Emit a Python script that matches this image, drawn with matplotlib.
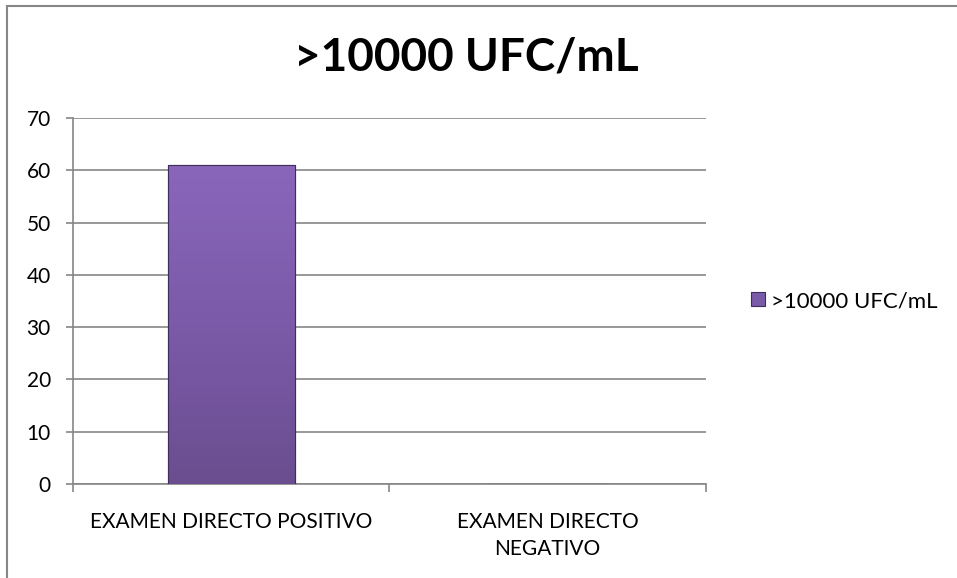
import numpy as np
import matplotlib.pyplot as plt
from matplotlib.patches import Rectangle
from matplotlib.colors import LinearSegmentedColormap

# data
categories = ["EXAMEN DIRECTO POSITIVO", "EXAMEN DIRECTO\nNEGATIVO"]
values = [61, 0]
series_name = ">10000 UFC/mL"
title = ">10000 UFC/mL"
yticks = [0, 10, 20, 30, 40, 50, 60, 70]

plt.rcParams['font.family'] = ['Lato', 'DejaVu Sans']

fig = plt.figure(figsize=(9.57, 5.78), dpi=100)
ax = fig.add_axes([0.0763, 0.1626, 0.6614, 0.6332])

x = [0, 1]
bars = ax.bar(x, values, width=0.4, color="#7a5ba8", edgecolor="#3f2d5c",
              linewidth=0.8, label=series_name, zorder=3)

# soft vertical gradient on the bars
cmap = LinearSegmentedColormap.from_list("purp", ["#6a4e8f", "#7b5aa9", "#8966ba"])
grad = np.linspace(0, 1, 256).reshape(-1, 1)
for b in bars:
    if b.get_height() <= 0:
        continue
    bx, by, bw, bh = b.get_x(), b.get_y(), b.get_width(), b.get_height()
    im = ax.imshow(grad, cmap=cmap, aspect='auto', origin='lower',
                   extent=(bx, bx + bw, by, by + bh), zorder=3.5)
    im.set_clip_path(b)
    ax.add_patch(Rectangle((bx, by), bw, bh, fill=False, edgecolor="#3f2d5c",
                           linewidth=0.8, zorder=4))

ax.set_xlim(-0.5, 1.5)
ax.set_ylim(0, 70)
ax.set_yticks(yticks)
ax.yaxis.grid(True, color="#868686", linewidth=1.2, zorder=0)
ax.set_xticks([-0.5, 0.5, 1.5], minor=False)
ax.set_xticklabels([])
ax.set_xticks(x, minor=True)
ax.set_xticklabels(categories, minor=True, fontsize=15, linespacing=1.45)
ax.tick_params(axis='x', which='minor', length=0, pad=20)
ax.tick_params(axis='x', which='major', length=6, color="#868686", width=1.2)
ax.tick_params(axis='y', length=5, color="#868686", width=1.2, labelsize=15, pad=11)

for s in ['top', 'right']:
    ax.spines[s].set_visible(False)
for s in ['left', 'bottom']:
    ax.spines[s].set_color("#868686")
    ax.spines[s].set_linewidth(1.2)

fig.text(0.487, 0.901, title, ha='center', va='center', fontsize=33, fontweight='bold')

ax.legend(loc='center left', bbox_to_anchor=(1.04, 0.5), frameon=False,
          fontsize=16, handlelength=0.6, handleheight=0.6, handletextpad=0.3)

# outer chart border
fig.patches.append(Rectangle((0.0073, -0.05), 1.1, 1.04, transform=fig.transFigure,
                             fill=False, edgecolor="#868686", linewidth=1.5))

fig.savefig("out.png", dpi=100)
